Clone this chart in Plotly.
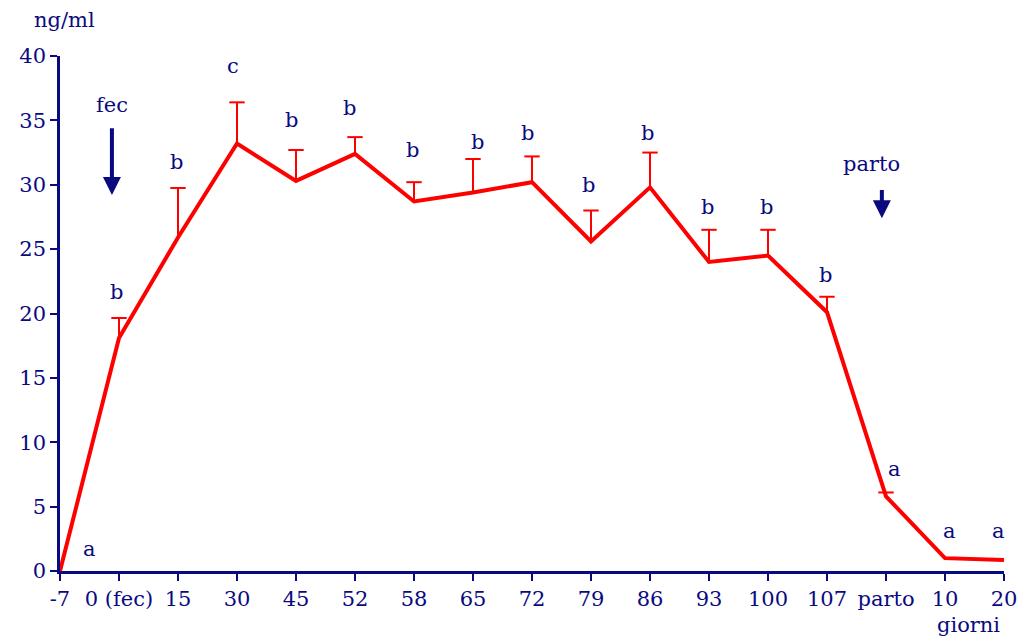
import plotly.graph_objects as go

# ---- data ----
categories = ["-7", "0 (fec)", "15", "30", "45", "52", "58", "65", "72", "79",
              "86", "93", "100", "107", "parto", "10", "20"]
values = [0.0, 18.1, 25.9, 33.2, 30.3, 32.4, 28.7, 29.4, 30.2, 25.6,
          29.8, 24.0, 24.5, 20.1, 5.8, 1.0, 0.85]
err_upper = [0.0, 1.55, 3.85, 3.2, 2.4, 1.3, 1.5, 2.6, 2.0, 2.4,
             2.7, 2.5, 2.0, 1.2, 0.3, 0.0, 0.0]
letters = ["a", "b", "b", "c", "b", "b", "b", "b", "b", "b",
           "b", "b", "b", "b", "a", "a", "a"]

# ---- label layout (positions of significance letters) ----
letter_x = [0.5, -0.05, -0.03, -0.07, -0.08, -0.1, -0.02, 0.07, -0.07, -0.05,
            -0.05, -0.02, -0.03, -0.02, 0.15, 0.08, -0.1]
letter_y = [1.7, 21.7, 31.8, 39.2, 35.0, 36.0, 32.7, 33.3, 34.0, 30.0,
            34.0, 28.3, 28.3, 23.0, 7.9, 3.1, 3.1]

NAVY = "#0a0a80"
FONT = "DejaVu Serif"
FS = 21
idx = list(range(len(categories)))

# error bars (upper only) built from the data arrays
ex, ey, cx, cy = [], [], [], []
for i, (v, e) in enumerate(zip(values, err_upper)):
    if e > 0:
        ex += [i, i, None]
        ey += [v, v + e, None]
        cx.append(i)
        cy.append(v + e)

fig = go.Figure()
fig.add_trace(go.Scatter(x=ex, y=ey, mode="lines",
                         line=dict(color="#ff0000", width=2),
                         showlegend=False, hoverinfo="skip"))
fig.add_trace(go.Scatter(x=cx, y=cy, mode="markers",
                         marker=dict(symbol="line-ew", size=11,
                                     line=dict(color="#ff0000", width=2)),
                         showlegend=False, hoverinfo="skip"))
fig.add_trace(go.Scatter(
    x=idx, y=values, mode="lines",
    line=dict(color="#ff0000", width=4),
    showlegend=False, hoverinfo="skip",
))

annotations = []
for i, (lt, dx, ly) in enumerate(zip(letters, letter_x, letter_y)):
    xi = i + dx if i > 0 else dx
    annotations.append(dict(x=xi, y=ly, xref="x", yref="y", text=lt,
                            showarrow=False,
                            font=dict(family=FONT, size=FS, color=NAVY)))

# arrows
annotations += [
    dict(x=0.88, y=29.2, ax=0.88, ay=34.5, xref="x", yref="y",
         axref="x", ayref="y", text="", showarrow=True, arrowhead=2,
         arrowsize=0.9, arrowwidth=4, arrowcolor=NAVY),
    dict(x=0.88, y=36.2, xref="x", yref="y", text="fec", showarrow=False,
         font=dict(family=FONT, size=FS, color=NAVY)),
    dict(x=13.93, y=27.4, ax=13.93, ay=29.7, xref="x", yref="y",
         axref="x", ayref="y", text="", showarrow=True,
         arrowhead=2, arrowsize=0.9, arrowwidth=4, arrowcolor=NAVY),
    dict(x=13.75, y=31.6, xref="x", yref="y", text="parto", showarrow=False,
         font=dict(family=FONT, size=FS, color=NAVY)),
    dict(x=0.005, y=1.07, xref="paper", yref="paper", text="ng/ml",
         xanchor="center", yanchor="middle",
         showarrow=False, font=dict(family=FONT, size=FS, color=NAVY)),
    dict(x=15.39, y=-0.105, xref="x", yref="paper", text="giorni",
         xanchor="center", yanchor="middle",
         showarrow=False, font=dict(family=FONT, size=FS, color=NAVY)),
]

fig.update_layout(
    width=1022, height=637,
    margin=dict(l=60, r=18, t=56, b=66),
    paper_bgcolor="white", plot_bgcolor="white",
    annotations=annotations,
    xaxis=dict(range=[0, 16], tickmode="array", tickvals=idx,
               ticktext=categories, showgrid=False, zeroline=False,
               automargin=False,
               showline=True, linecolor=NAVY, linewidth=2.5,
               ticks="outside", ticklen=7, tickwidth=2, tickcolor=NAVY,
               tickfont=dict(family=FONT, size=FS, color=NAVY)),
    yaxis=dict(range=[0, 40], tickvals=list(range(0, 41, 5)),
               showgrid=False, zeroline=False, automargin=False,
               showline=True, linecolor=NAVY, linewidth=2.5,
               ticks="outside", ticklen=7, tickwidth=2, tickcolor=NAVY,
               tickfont=dict(family=FONT, size=FS, color=NAVY)),
)

fig.write_html("out.html",
               config={"displayModeBar": False},
               post_script="document.body.style.margin='0';"
                           "document.body.style.overflow='hidden';")
